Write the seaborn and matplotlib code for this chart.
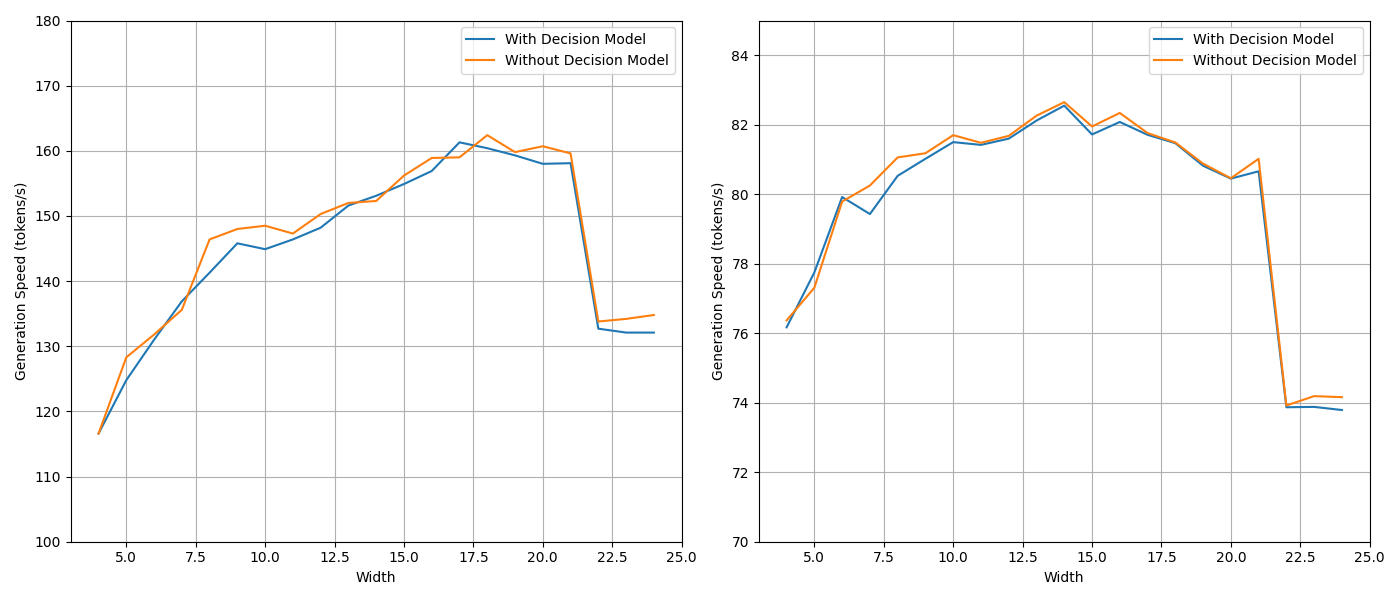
import numpy as np
import pandas as pd
import matplotlib
matplotlib.use("Agg")
import matplotlib.pyplot as plt
import seaborn as sns

widths = list(range(4, 25))

left_with = [116.6, 124.8, 131.0, 136.9, 141.3, 145.8, 144.9, 146.4, 148.2, 151.6, 153.1,
             154.9, 156.9, 161.3, 160.4, 159.3, 158.0, 158.1, 132.7, 132.1, 132.1]
left_without = [116.6, 128.3, 131.8, 135.6, 146.4, 148.0, 148.5, 147.3, 150.3, 152.0, 152.3,
                156.2, 158.9, 159.0, 162.4, 159.8, 160.7, 159.6, 133.8, 134.2, 134.8]

right_with = [76.17, 77.75, 79.92, 79.43, 80.53, 81.02, 81.50, 81.42, 81.60, 82.12, 82.55,
              81.72, 82.08, 81.71, 81.47, 80.82, 80.45, 80.66, 73.87, 73.88, 73.79]
right_without = [76.37, 77.31, 79.79, 80.25, 81.06, 81.18, 81.70, 81.48, 81.68, 82.26, 82.65,
                 81.95, 82.34, 81.76, 81.49, 80.88, 80.46, 81.02, 73.92, 74.19, 74.16]

labels = ["With Decision Model", "Without Decision Model"]
colors = ["#1f77b4", "#ff7f0e"]

fig, axes = plt.subplots(1, 2, figsize=(14, 6), dpi=100)

panels = [
    (axes[0], left_with, left_without, (100, 180)),
    (axes[1], right_with, right_without, (70, 85)),
]
for ax, w, wo, ylim in panels:
    df = pd.DataFrame({
        "Width": widths * 2,
        "Speed": w + wo,
        "Mode": [labels[0]] * len(widths) + [labels[1]] * len(widths),
    })
    sns.lineplot(data=df, x="Width", y="Speed", hue="Mode", palette=colors,
                 ax=ax, linewidth=1.5, estimator=None)
    ax.set_ylim(*ylim)
    ax.set_xlabel("Width")
    ax.set_ylabel("Generation Speed (tokens/s)")
    ax.grid(True, color="#b0b0b0", linewidth=0.8)
    ax.set_axisbelow(True)
    ax.legend(loc="upper right", title=None)

axes[1].set_yticks(np.arange(70, 85, 2))
plt.tight_layout()
fig.savefig("out.png", dpi=100)
